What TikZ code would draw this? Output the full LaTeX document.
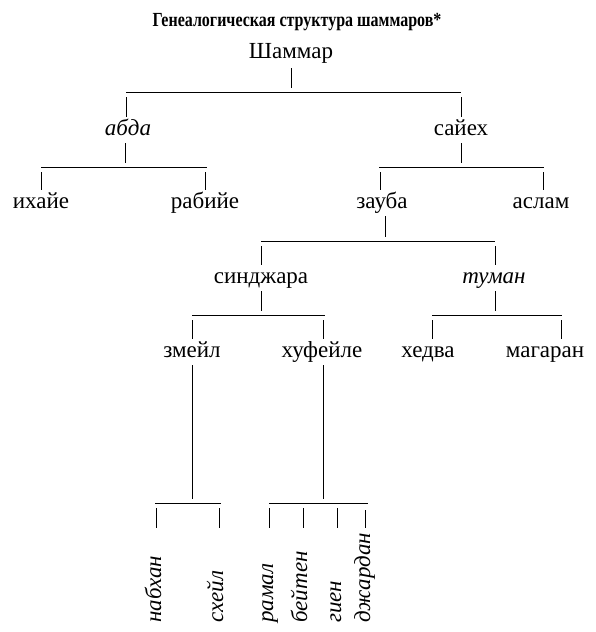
\documentclass[tikz,border=0pt]{standalone}
\usepackage{fontspec}
\setmainfont{Liberation Serif}
\usetikzlibrary{calc}
\begin{document}
\begin{tikzpicture}[x=1pt,y=-1pt,
  lbl/.style={font=\fontsize{23}{25}\selectfont, inner sep=0pt, text height=10pt, text depth=0pt, minimum height=26pt},
  ital/.style={lbl, font=\fontsize{23}{25}\selectfont\itshape},
  rot/.style={font=\fontsize{23}{25}\selectfont\itshape, rotate=90, anchor=west, inner sep=0pt, text width=95pt, align=left, text height=10pt, text depth=0pt},
  ttl/.style={font=\fontsize{20}{22}\selectfont\bfseries, inner sep=0pt},
  conn/.style={line width=0.7pt}]
\useasboundingbox (0,0) rectangle (595,632);

\node[ttl] (title) at (297,22) {\scalebox{0.8}[1]{Генеалогическая структура шаммаров*}};

\node[lbl]  (sham)    at (291,53)  {Шаммар};
\node[ital] (abda)    at (128,130) {абда};
\node[lbl]  (sayeh)   at (461,130) {сайех};
\node[lbl]  (ihaye)   at (41,203)  {ихайе};
\node[lbl]  (rabiye)  at (205,203) {рабийе};
\node[lbl]  (zauba)   at (382,203) {зауба};
\node[lbl]  (aslam)   at (541,203) {аслам};
\node[lbl]  (sindzh)  at (261,278) {синджара};
\node[ital] (tuman)   at (494,278) {туман};
\node[lbl]  (zmeyl)   at (192,352) {змейл};
\node[lbl]  (hufeyle) at (322,352) {хуфейле};
\node[lbl]  (hedva)   at (428,352) {хедва};
\node[lbl]  (magaran) at (545,352) {магаран};
\node[rot]  (nabhan)  at (156,623) {набхан};
\node[rot]  (sheyl)   at (218,623) {схейл};
\node[rot]  (ramal)   at (268,623) {рамал};
\node[rot]  (beyten)  at (302,623) {бейтен};
\node[rot]  (gien)    at (336,623) {гиен};
\node[rot]  (dzh)     at (365,623) {джардан};

\coordinate (y1) at (0,92);
\coordinate (y2) at (0,167);
\coordinate (y3) at (0,241);
\coordinate (y4) at (0,315);
\coordinate (y6) at (0,503);

% level 1
\draw[conn] ($(sham.south)+(0,2)$) -- ($(sham.south |- y1)+(0,-4)$);
\draw[conn] ($(abda.north |- y1)+(-2,0)$) -- (sayeh.north |- y1);
\draw[conn] ($(abda.north |- y1)+(-2,5)$) -- ($(abda.north)+(-2,0)$);
\draw[conn] ($(sayeh.north |- y1)+(0,5)$) -- (sayeh.north);

% abda
\draw[conn] ($(abda.south)+(-3,0)$) -- ($(abda.south |- y2)+(-3,-4)$);
\draw[conn] (ihaye.north |- y2) -- ($(rabiye.north |- y2)+(2,0)$);
\draw[conn] ($(ihaye.north |- y2)+(0,5)$) -- (ihaye.north);
\draw[conn] ($(rabiye.north |- y2)+(0,5)$) -- (rabiye.north);

% sayeh
\draw[conn] (sayeh.south) -- ($(sayeh.south |- y2)+(0,-4)$);
\draw[conn] ($(zauba.north |- y2)+(-3,0)$) -- ($(aslam.north |- y2)+(3,0)$);
\draw[conn] ($(zauba.north |- y2)+(-2,5)$) -- ($(zauba.north)+(-2,0)$);
\draw[conn] ($(aslam.north |- y2)+(2,5)$) -- ($(aslam.north)+(2,0)$);

% zauba
\draw[conn] ($(zauba.south)+(3,0)$) -- ($(zauba.south |- y3)+(3,-4)$);
\draw[conn] (sindzh.north |- y3) -- ($(tuman.north |- y3)+(1,0)$);
\draw[conn] ($(sindzh.north |- y3)+(0,5)$) -- (sindzh.north);
\draw[conn] ($(tuman.north |- y3)+(1,5)$) -- ($(tuman.north)+(1,0)$);

% sindzhara
\draw[conn] (sindzh.south) -- ($(sindzh.south |- y4)+(0,-4)$);
\draw[conn] (zmeyl.north |- y4) -- ($(hufeyle.north |- y4)+(3,0)$);
\draw[conn] ($(zmeyl.north |- y4)+(0,5)$) -- (zmeyl.north);
\draw[conn] ($(hufeyle.north |- y4)+(1,5)$) -- ($(hufeyle.north)+(1,0)$);

% tuman
\draw[conn] ($(tuman.south)+(1,0)$) -- ($(tuman.south |- y4)+(1,-4)$);
\draw[conn] ($(hedva.north |- y4)+(4,0)$) -- ($(magaran.north |- y4)+(17,0)$);
\draw[conn] ($(hedva.north |- y4)+(4,5)$) -- ($(hedva.north)+(4,0)$);
\draw[conn] ($(magaran.north |- y4)+(16,5)$) -- ($(magaran.north)+(16,0)$);

% zmeyl
\draw[conn] (zmeyl.south) -- ($(zmeyl.south |- y6)+(0,-4)$);
\draw[conn] ($(nabhan.east |- y6)+(-1,0)$) -- ($(sheyl.east |- y6)+(3,0)$);
\draw[conn] ($(nabhan.east |- y6)+(0,5)$) -- (nabhan.east);
\draw[conn] ($(sheyl.east |- y6)+(1,5)$) -- ($(sheyl.east)+(1,0)$);

% hufeyle
\draw[conn] ($(hufeyle.south)+(1,0)$) -- ($(hufeyle.south |- y6)+(1,-4)$);
\draw[conn] ($(ramal.east |- y6)+(1,0)$) -- ($(dzh.east |- y6)+(3,0)$);
\draw[conn] ($(ramal.east |- y6)+(1,5)$) -- ($(ramal.east)+(1,0)$);
\draw[conn] ($(beyten.east |- y6)+(1,5)$) -- ($(beyten.east)+(1,0)$);
\draw[conn] ($(gien.east |- y6)+(1,5)$) -- ($(gien.east)+(1,0)$);
\draw[conn] ($(dzh.east |- y6)+(0,7)$) -- (dzh.east);
\end{tikzpicture}
\end{document}
